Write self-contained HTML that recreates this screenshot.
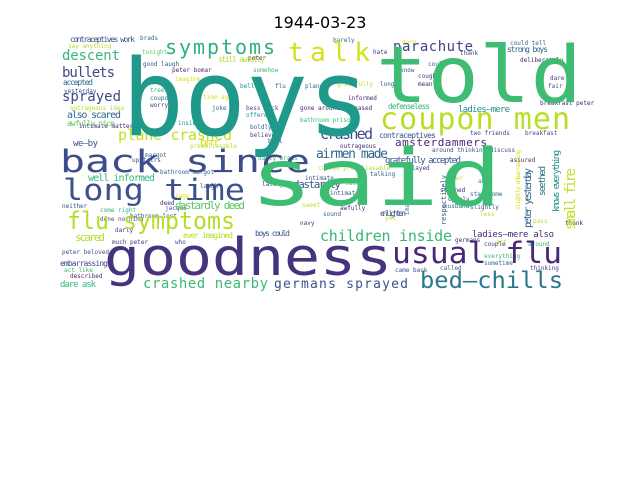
<!DOCTYPE html>
<html><head><meta charset="utf-8"><style>
html,body{margin:0;padding:0;background:#fff;width:640px;height:480px;overflow:hidden}
svg text{font-family:"DejaVu Sans Mono","Liberation Mono",monospace}
.t{font-family:"DejaVu Sans","Liberation Sans",sans-serif}
</style></head><body>
<svg width="640" height="480" viewBox="0 0 640 480">
<rect width="640" height="480" fill="#fff"/>
<text class="t" x="320" y="28" font-size="16" text-anchor="middle" fill="#000">1944-03-23</text>
<g>
<g font-size="6">
<text x="68" y="48" fill="#b5de2b">say anything</text>
<text x="140" y="40" fill="#31688e">brads</text>
<text x="142" y="54" fill="#5ec962">tonight</text>
<text x="143" y="66" fill="#3b528b">good laugh</text>
<text x="172" y="72" fill="#482878">peter bomar</text>
<text x="175" y="81" fill="#d8e219">imagine</text>
<text x="150" y="92" fill="#35b779">trees</text>
<text x="150" y="100" fill="#31688e">coupon</text>
<text x="150" y="107" fill="#443983">worry</text>
<text x="203" y="99" fill="#d8e219">time ago</text>
<text x="212" y="110" fill="#31688e">joke</text>
<text x="178" y="125" fill="#21918c">inside</text>
<text x="79" y="128" fill="#482475">intimate matters</text>
<text x="70" y="110" fill="#b5de2b">outrageous idea</text>
<text x="64" y="93" fill="#3b528b">yesterday</text>
<text x="190" y="148" fill="#b5de2b">preamliasable</text>
<text x="145" y="157" fill="#31688e">margot</text>
<text x="132" y="162" fill="#3b528b">upstairs</text>
<text x="258" y="160" fill="#35b779">darly brads</text>
<text x="268" y="143" fill="#443983">bell</text>
<text x="250" y="137" fill="#3e4a89">believe</text>
<text x="250" y="129" fill="#31688e">boldly</text>
<text x="246" y="117" fill="#21918c">offered</text>
<text x="246" y="110" fill="#3b528b">bess back</text>
<text x="240" y="88" fill="#21918c">bell</text>
<text x="275" y="88" fill="#31688e">flu</text>
<text x="305" y="88" fill="#31688e">plane</text>
<text x="248" y="60" fill="#482878">peter</text>
<text x="253" y="72" fill="#35b779">somehow</text>
<text x="333" y="42" fill="#31688e">barely</text>
<text x="373" y="54" fill="#443983">hate</text>
<text x="402" y="44" fill="#d8e219">darn</text>
<text x="348" y="100" fill="#482878">informed</text>
<text x="300" y="110" fill="#482475">gone around released</text>
<text x="300" y="122" fill="#35b779">bathroom prison</text>
<text x="337" y="86" fill="#b5de2b">gratefully</text>
<text x="380" y="86" fill="#31688e">long</text>
<text x="340" y="148" fill="#482878">outrageous</text>
<text x="318" y="170" fill="#b5de2b">called preamliasable</text>
<text x="408" y="170" fill="#443983">played</text>
<text x="432" y="152" fill="#3b528b">around thinking discuss</text>
<text x="418" y="78" fill="#443983">cough</text>
<text x="418" y="86" fill="#482878">mean</text>
<text x="400" y="72" fill="#3e4a89">know</text>
<text x="428" y="66" fill="#31688e">could</text>
<text x="460" y="55" fill="#3b528b">thank</text>
<text x="510" y="45" fill="#31688e">could tell</text>
<text x="520" y="62" fill="#482878">deliberately</text>
<text x="550" y="80" fill="#443983">dare</text>
<text x="548" y="88" fill="#3b528b">fair</text>
<text x="540" y="105" fill="#482475">breakfast peter</text>
<text x="525" y="135" fill="#3e4a89">breakfast</text>
<text x="470" y="135" fill="#443983">two friends</text>
<text x="510" y="162" fill="#482878">assured</text>
<text x="370" y="176" fill="#31688e">talking</text>
<text x="345" y="185" fill="#35b779">lately</text>
<text x="330" y="195" fill="#3b528b">intimate</text>
<text x="340" y="210" fill="#482878">awfully</text>
<text x="445" y="180" fill="#b5de2b">fewer</text>
<text x="440" y="192" fill="#482875">stunned</text>
<text x="448" y="201" fill="#3e4a89">openly</text>
<text x="444" y="208" fill="#31688e">husband</text>
<text x="478" y="183" fill="#21918c">able</text>
<text x="470" y="196" fill="#31688e">stay home</text>
<text x="470" y="209" fill="#3b528b">slightly</text>
<text x="480" y="216" fill="#b5de2b">less</text>
<text x="533" y="223" fill="#b5de2b">pass</text>
<text x="565" y="225" fill="#482878">thank</text>
<text x="496" y="244" fill="#b5de2b">act</text>
<text x="528" y="246" fill="#35b779">around</text>
<text x="484" y="246" fill="#443983">couple</text>
<text x="484" y="258" fill="#35b779">everything</text>
<text x="484" y="265" fill="#31688e">sometime</text>
<text x="455" y="242" fill="#482878">germans</text>
<text x="440" y="270" fill="#31688e">called</text>
<text x="395" y="272" fill="#3b528b">came back</text>
<text x="530" y="270" fill="#443983">thinking</text>
<text x="385" y="220" fill="#b5de2b">yet</text>
<text x="323" y="216" fill="#31688e">sound</text>
<text x="175" y="198" fill="#d8e219">rage</text>
<text x="200" y="188" fill="#3b528b">laugh</text>
<text x="165" y="210" fill="#3b528b">jacque</text>
<text x="100" y="212" fill="#35b779">come right</text>
<text x="100" y="221" fill="#3b528b">done nothing</text>
<text x="130" y="218" fill="#3b528b">bathroom lost</text>
<text x="160" y="174" fill="#31688e">bathroom margot</text>
<text x="160" y="205" fill="#482878">deed</text>
<text x="62" y="208" fill="#3b528b">neither</text>
<text x="115" y="232" fill="#443983">darly</text>
<text x="112" y="244" fill="#443983">much peter</text>
<text x="175" y="244" fill="#3b528b">who</text>
<text x="62" y="254" fill="#3b528b">peter beloved</text>
<text x="64" y="272" fill="#35b779">act like</text>
<text x="70" y="278" fill="#482878">described</text>
<text x="262" y="186" fill="#443983">lately</text>
<text x="302" y="207" fill="#b5de2b">sweet</text>
<text x="300" y="225" fill="#443983">navy</text>
<text x="305" y="180" fill="#3b528b">intimate</text>
</g>
<text x="70" y="42" font-size="8" fill="#3b528b" textLength="65">contraceptives work</text>
<text x="62" y="60" font-size="14" fill="#35b779" textLength="58">descent</text>
<text x="62" y="77" font-size="14" fill="#3e4a89" textLength="53">bullets</text>
<text x="63" y="85" font-size="8" fill="#31688e" textLength="30">accepted</text>
<text x="62" y="101" font-size="14" fill="#3e4a89" textLength="59">sprayed</text>
<text x="67" y="118" font-size="10" fill="#31688e" textLength="54">also scared</text>
<text x="67" y="126" font-size="8" fill="#5ec962" textLength="48">awfully nice</text>
<text x="118" y="140" font-size="15" fill="#c2df23" textLength="114">plane crashed</text>
<text x="200" y="146" font-size="11" fill="#d8e219" textLength="20">brrr</text>
<text x="73" y="146" font-size="9" fill="#3b528b" textLength="25">we–by</text>
<text x="165" y="54" font-size="20" fill="#2db27d" textLength="110">symptoms</text>
<text x="218" y="62" font-size="8" fill="#b5de2b" textLength="47">still awfully</text>
<text x="288" y="61" font-size="26" fill="#d2e21b" textLength="82">talk</text>
<text x="393" y="51" font-size="14" fill="#414487" textLength="80">parachute</text>
<text x="507" y="52" font-size="8" fill="#31688e" textLength="41">strong boys</text>
<text x="388" y="109" font-size="8" fill="#35b779" textLength="42">defenseless</text>
<text x="458" y="112" font-size="9" fill="#21918c" textLength="52">ladies–mere</text>
<text x="380" y="129" font-size="30" fill="#bade28" textLength="190">coupon men</text>
<text x="320" y="139" font-size="15" fill="#3e4c8a" textLength="53">crashed</text>
<text x="379" y="138" font-size="8" fill="#3b528b" textLength="57">contraceptives</text>
<text x="316" y="158" font-size="13" fill="#31688e" textLength="72">airmen made</text>
<text x="395" y="146" font-size="11" fill="#482475" textLength="92">amsterdammers</text>
<text x="385" y="163" font-size="9" fill="#3b528b" textLength="76">gratefully accepted</text>
<text x="88" y="181" font-size="10" fill="#35b779" textLength="67">well informed</text>
<text x="293" y="188" font-size="11" fill="#3b528b" textLength="48">dastardly</text>
<text x="175" y="209" font-size="11" fill="#5ec962" textLength="70">dastardly deed</text>
<text x="183" y="238" font-size="8" fill="#b5de2b" textLength="50">ever imagined</text>
<text x="255" y="236" font-size="8" fill="#3b528b" textLength="35">boys could</text>
<text x="75" y="241" font-size="11" fill="#b5de2b" textLength="30">scared</text>
<text x="60" y="266" font-size="8" fill="#3e4a89" textLength="48">embarrassing</text>
<text x="60" y="287" font-size="9" fill="#35b779" textLength="36">dare ask</text>
<text x="143" y="288" font-size="14" fill="#3aba76" textLength="125">crashed nearby</text>
<text x="274" y="288" font-size="13" fill="#3b528b" textLength="134">germans sprayed</text>
<text x="320" y="241" font-size="15" fill="#35b779" textLength="132">children inside</text>
<text x="472" y="237" font-size="9" fill="#482878" textLength="82">ladies–mere also</text>
<text x="380" y="216" font-size="8" fill="#3b528b" textLength="26">enlighten</text>
<text transform="translate(575,230) rotate(-90)" font-size="14" fill="#c2df23" textLength="62">small fire</text>
<text transform="translate(531,228) rotate(-90)" font-size="10" fill="#31688e" textLength="60">peter yesterday</text>
<text transform="translate(559,212) rotate(-90)" font-size="9" fill="#21918c" textLength="62">knows everything</text>
<text transform="translate(545,196) rotate(-90)" font-size="9" fill="#2a788e" textLength="30">seethed</text>
<text transform="translate(520,210) rotate(-90)" font-size="6" fill="#d8e219" textLength="60">slightly embarrassing</text>
<text transform="translate(446,225) rotate(-90)" font-size="7" fill="#3b528b" textLength="50">respectively</text>
<text transform="translate(409,215) rotate(-90)" font-size="6" fill="#31688e" textLength="30">imagined</text>
<text x="60" y="172" font-size="31" fill="#3e4c8a" textLength="250" lengthAdjust="spacingAndGlyphs">back since</text>
<text x="63" y="200" font-size="29" fill="#3b528b" textLength="182" lengthAdjust="spacingAndGlyphs">long time</text>
<text x="67" y="229" font-size="24" fill="#b5de2b" textLength="168" lengthAdjust="spacingAndGlyphs">flu symptoms</text>
<text x="122" y="135" font-size="106" fill="#1f9a8a" textLength="248" lengthAdjust="spacingAndGlyphs">boys</text>
<text x="376" y="102" font-size="78" fill="#3fbc73" textLength="206" lengthAdjust="spacingAndGlyphs">told</text>
<text x="250" y="205" font-size="78" fill="#3dbc74" textLength="252" lengthAdjust="spacingAndGlyphs">said</text>
<text x="104" y="275" font-size="52" fill="#46337e" textLength="288" lengthAdjust="spacingAndGlyphs">goodness</text>
<text x="392" y="263" font-size="29" fill="#482878" textLength="170" lengthAdjust="spacingAndGlyphs">usual flu</text>
<text x="420" y="288" font-size="23" fill="#2a788e" textLength="143" lengthAdjust="spacingAndGlyphs">bed–chills</text>
</g>
</svg>
</body></html>
